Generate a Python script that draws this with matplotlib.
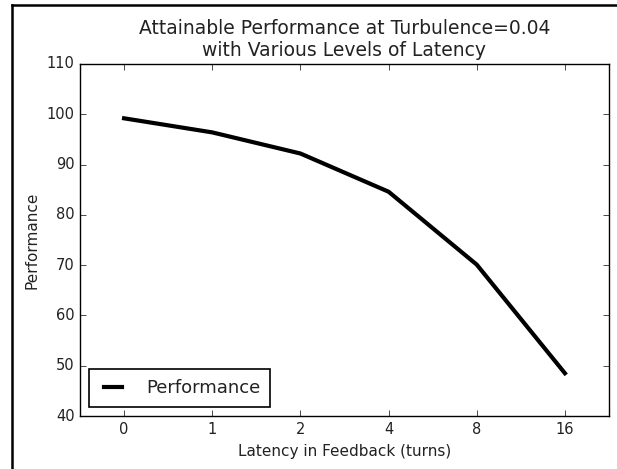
import matplotlib
matplotlib.use("Agg")
import matplotlib.pyplot as plt
from matplotlib.lines import Line2D

# Latency levels (turns) and the attainable performance at each
latency_labels = ["0", "1", "2", "4", "8", "16"]
performance = [99.2, 96.4, 92.2, 84.6, 70.1, 48.5]

plt.style.use("classic")
plt.rcParams["font.family"] = "DejaVu Sans"

W, H = 617, 469
fig = plt.figure(figsize=(W / 100, H / 100), dpi=100, facecolor="white")
ax = fig.add_axes([80 / W, 1 - 416 / H, 529 / W, 352 / H])

x = list(range(len(latency_labels)))
ax.plot(x, performance, color="black", linewidth=3, label="Performance")

ax.set_xlim(-0.5, len(latency_labels) - 0.5)
ax.set_ylim(40, 110)
ax.set_xticks(x)
ax.set_xticklabels(latency_labels)
ax.set_yticks(range(40, 111, 10))
ax.tick_params(labelsize=10.5, colors="black")
for lbl in ax.get_xticklabels() + ax.get_yticklabels():
    lbl.set_color("#222222")

ax.set_title("Attainable Performance at Turbulence=0.04\nwith Various Levels of Latency",
             fontsize=13.5, color="#222222", pad=6)
ax.set_xlabel("Latency in Feedback (turns)", fontsize=11, color="#222222")
ax.set_ylabel("Performance", fontsize=11, color="#222222")

leg = ax.legend(loc="lower left", fontsize=13, fancybox=False, handlelength=1.6,
                handletextpad=1.0, borderpad=0.55, borderaxespad=0.5)
leg.get_frame().set_linewidth(1.2)
for t in leg.get_texts():
    t.set_color("#222222")

# Frame edges along the top and left of the figure
fig.add_artist(Line2D([12 / W, 12 / W], [0, 1 - 5 / H], transform=fig.transFigure,
                      color="black", linewidth=1.8))
fig.add_artist(Line2D([12 / W, 1], [1 - 5 / H, 1 - 5 / H], transform=fig.transFigure,
                      color="black", linewidth=1.8))

fig.savefig("out.png", dpi=100, facecolor="white")
